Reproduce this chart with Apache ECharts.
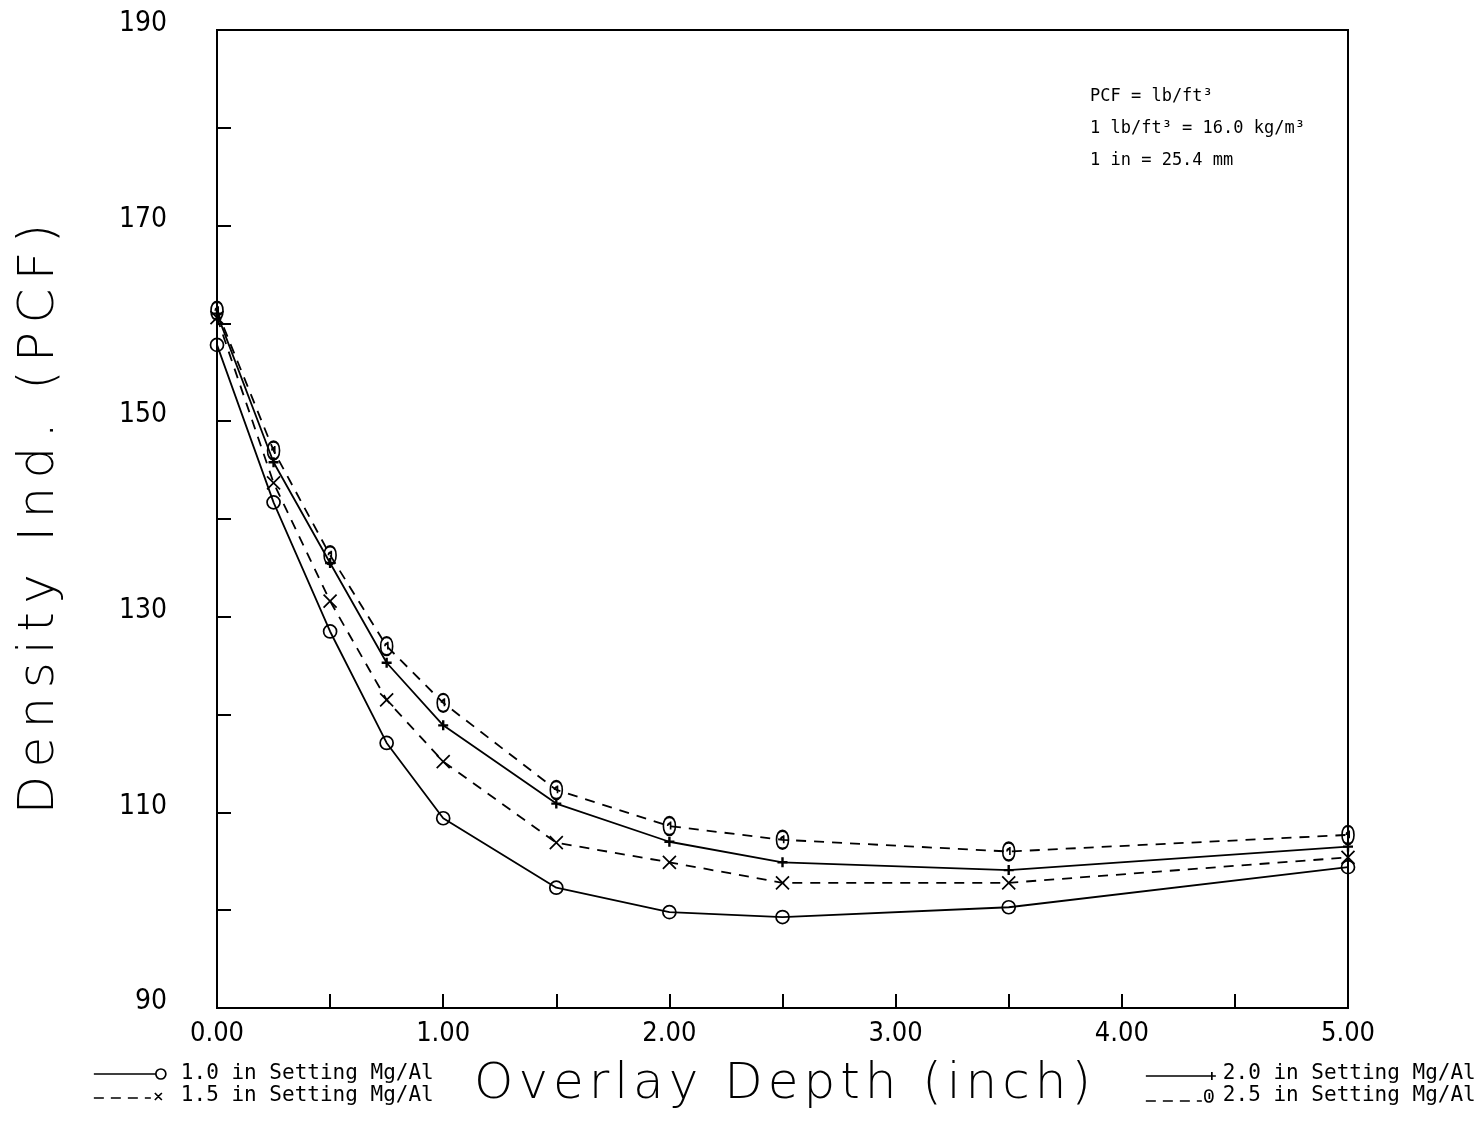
<!DOCTYPE html>
<html>
<head>
<meta charset="utf-8">
<title>Density Ind. vs Overlay Depth</title>
<script src="https://cdn.jsdelivr.net/npm/echarts@6/dist/echarts.min.js"></script>
<style>
  html, body { margin: 0; padding: 0; background: #fff; }
  #chart { width: 1483px; height: 1130px; }
</style>
</head>
<body>
<div id="chart"></div>
<script>
// Overlay depth (inch) at which density was measured
const depth = [0, 0.25, 0.5, 0.75, 1.0, 1.5, 2.0, 2.5, 3.5, 5.0];

// Density indicator readings (PCF) for each setting depth of the Mg/Al rod
const set10 = [157.8, 141.7, 128.5, 117.1, 109.4, 102.3, 99.8, 99.3, 100.3, 104.4];
const set15 = [160.6, 143.7, 131.6, 121.5, 115.2, 106.9, 104.9, 102.8, 102.8, 105.4];
const set20 = [161.0, 145.8, 135.5, 125.3, 118.9, 110.9, 107.0, 104.9, 104.1, 106.5];
const set25 = [161.3, 147.0, 136.3, 127.0, 121.2, 112.3, 108.6, 107.2, 106.0, 107.7];

const seriesNames = [
  '1.0 in Setting Mg/Al',
  '1.5 in Setting Mg/Al',
  '2.0 in Setting Mg/Al',
  '2.5 in Setting Mg/Al'
];

// Axis tick labels
const yTickLabels = [90, 110, 130, 150, 170, 190];
const xTickLabels = [0, 1, 2, 3, 4, 5];

const xTitle = 'Overlay Depth (inch)';
const yTitle = 'Density Ind. (PCF)';

const unitNotes = ['PCF = lb/ft³', '1 lb/ft³ = 16.0 kg/m³', '1 in = 25.4 mm'];

const toPairs = vals => depth.map((d, i) => [d, vals[i]]);

// widen the big axis titles, plotter style, by putting a narrow space between glyphs
const spaced = (s, gap) => s.split('').join(gap);

// plotter-style marker glyphs
const plusSym = 'path://M5,0L5,10M0,5L10,5';
const crossSym = 'path://M0,0L10,10M10,0L0,10';
const atSym = 'path://M5,0C8,0 10,3 10,8C10,13 8,16 5,16C2,16 0,13 0,8C0,3 2,0 5,0ZM6,4L6,11M3.5,8C3.5,5.5 6,5 6,7';

// legend keys: line sample with the marker drawn at its right end
const keySolidCircle = 'path://M0,0M72,14M0,7L62,7M62,7A5,5 0 1 1 72,7A5,5 0 1 1 62,7';
const keyDashCross = 'path://M0,0M72,14M0,9L10,9M17,9L27,9M34,9L44,9M51,9L57,9M61,4L68,11M68,4L61,11';
const keySolidPlus = 'path://M0,0M70,14M0,9L64,9M66,5L66,13M62,9L70,9';
const keyDashAt = 'path://M0,0M70,14M0,12L10,12M17,12L27,12M34,12L44,12M51,12L56,12M63,1C66,1 67,3 67,7C67,11 66,13 63,13C60,13 59,11 59,7C59,3 60,1 63,1ZM63.5,4L63.5,10';

const plotFont = "'Liberation Sans Narrow','DejaVu Sans Condensed','Roboto Condensed',sans-serif";
const monoFont = "'DejaVu Sans Mono','Liberation Mono',monospace";
const titleFont = "'DejaVu Sans','Noto Sans',sans-serif";

function makeSeries(name, vals, dashed, symbol, size, markWidth) {
  return {
    name: name,
    type: 'line',
    data: toPairs(vals),
    symbol: symbol,
    symbolSize: size,
    showAllSymbol: true,
    clip: false,
    lineStyle: {
      color: '#000',
      width: 1.8,
      type: dashed ? [10, 8] : 'solid'
    },
    itemStyle: {
      color: 'transparent',
      borderColor: '#000',
      borderWidth: markWidth
    },
    emphasis: { disabled: true },
    z: 3
  };
}

const legendBase = {
  top: 1058,
  orient: 'vertical',
  itemGap: 0,
  itemHeight: 14,
  selectedMode: false,
  itemStyle: { color: 'transparent', borderColor: '#000', borderWidth: 1.7 }
};

const chart = echarts.init(document.getElementById('chart'), null, { renderer: 'canvas' });

chart.setOption({
  animation: false,
  backgroundColor: '#fff',
  grid: {
    left: 217,
    right: 135,
    top: 30,
    bottom: 122,
    show: true,
    borderColor: '#000',
    borderWidth: 2,
    backgroundColor: 'transparent'
  },
  xAxis: {
    type: 'value',
    min: 0,
    max: 5,
    interval: 0.5,
    name: spaced(xTitle, '\u200A'),
    nameLocation: 'middle',
    nameGap: 52,
    nameTextStyle: {
      fontFamily: titleFont,
      fontWeight: 200,
      fontSize: 50,
      color: '#000'
    },
    axisLine: { show: true, lineStyle: { color: '#000', width: 2 } },
    axisTick: { show: true, inside: true, length: 14, lineStyle: { color: '#000', width: 2 } },
    splitLine: { show: false },
    axisLabel: {
      color: '#000',
      fontFamily: plotFont,
      fontSize: 27,
      margin: 12,
      showMinLabel: true,
      showMaxLabel: true,
      formatter: v => xTickLabels.some(t => Math.abs(t - v) < 1e-9) ? v.toFixed(2) : ''
    }
  },
  yAxis: {
    type: 'value',
    min: 90,
    max: 190,
    interval: 10,
    name: spaced(yTitle, '\u2006'),
    nameLocation: 'middle',
    nameRotate: 90,
    nameGap: 152,
    nameTextStyle: {
      fontFamily: titleFont,
      fontWeight: 200,
      fontSize: 50,
      color: '#000'
    },
    axisLine: { show: true, lineStyle: { color: '#000', width: 2 } },
    axisTick: { show: true, inside: true, length: 14, lineStyle: { color: '#000', width: 2 } },
    splitLine: { show: false },
    axisLabel: {
      color: '#000',
      fontFamily: plotFont,
      fontSize: 28,
      margin: 50,
      verticalAlign: 'bottom',
      lineHeight: 12,
      showMinLabel: true,
      showMaxLabel: true,
      formatter: v => yTickLabels.indexOf(v) >= 0 ? String(v) : ''
    }
  },
  legend: [
    Object.assign({}, legendBase, {
      left: 88,
      itemWidth: 72,
      textStyle: { color: '#000', fontFamily: monoFont, fontSize: 21, lineHeight: 22, padding: [0, 0, 0, 10] },
      data: [
        { name: seriesNames[0], icon: keySolidCircle },
        { name: seriesNames[1], icon: keyDashCross }
      ]
    }),
    Object.assign({}, legendBase, {
      left: 1140,
      itemWidth: 70,
      textStyle: { color: '#000', fontFamily: monoFont, fontSize: 21, lineHeight: 22, padding: [0, 0, 0, 2] },
      data: [
        { name: seriesNames[2], icon: keySolidPlus },
        { name: seriesNames[3], icon: keyDashAt }
      ]
    })
  ],
  graphic: unitNotes.map((t, i) => ({
    type: 'text',
    left: 1090,
    top: 88 + i * 32,
    style: {
      text: t,
      fill: '#000',
      font: "17px " + monoFont
    },
    z: 10
  })),
  series: [
    makeSeries(seriesNames[0], set10, false, 'circle', 13, 1.7),
    makeSeries(seriesNames[1], set15, true, crossSym, 13, 1.7),
    makeSeries(seriesNames[2], set20, false, plusSym, 10, 2.4),
    makeSeries(seriesNames[3], set25, true, atSym, [12, 18], 2)
  ]
});
</script>
</body>
</html>
